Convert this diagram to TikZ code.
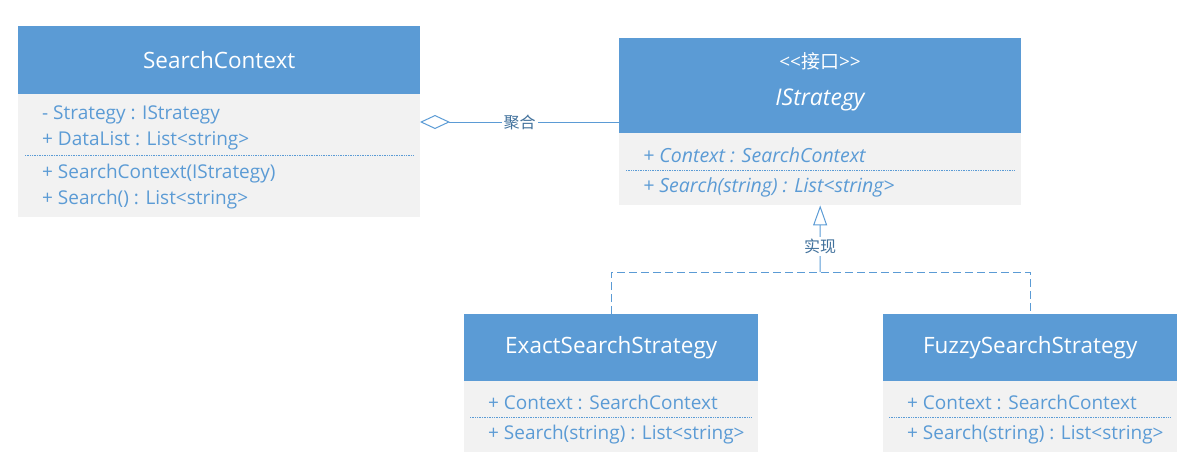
\documentclass[tikz,border=0pt]{standalone}
\usepackage{fontspec}
\setmainfont{Open Sans}[Ligatures=NoCommon]
\newfontfamily\cjk{Noto Sans CJK SC}
\usetikzlibrary{arrows.meta}
\definecolor{umlblue}{HTML}{5B9BD5}
\definecolor{umlgray}{HTML}{F2F2F2}
\definecolor{labelblue}{HTML}{41719C}

\tikzset{
	head/.style={fill=umlblue, text=white, inner sep=0pt, anchor=north west, font=\fontsize{22.5}{26}\selectfont},
	body/.style={fill=umlgray, inner sep=0pt, anchor=north west},
	member/.style={anchor=west, inner sep=0pt, yshift=-2pt, text=umlblue, font=\fontsize{19}{22}\selectfont},
	sep/.style={umlblue, densely dotted, line width=0.7pt},
	conn/.style={umlblue, line width=1pt},
	lbl/.style={fill=white, inner sep=2pt, text=labelblue, font=\cjk\fontsize{16}{19}\selectfont}
}

\begin{document}
\begin{tikzpicture}[x=1pt, y=-1pt]
	\useasboundingbox (0,0) rectangle (1197,469);
	% SearchContext
	\node[head, minimum width=402pt, minimum height=68pt] (sc) at (18,26) {SearchContext};
	\node[body, minimum width=402pt, minimum height=123pt] (scbody) at (18,94) {};
	\node[member] (sc1) at (42,113) {- Strategy : IStrategy};
	\node[member] (sc2) at (42,139) {+ DataList : List\kern0pt<string\kern0pt>};
	\draw[sep] (25,155) -- (414,155);
	\node[member] (sc3) at (42,172) {+ SearchContext(IStrategy)};
	\node[member] (sc4) at (42,198) {+ Search() : List\kern0pt<string\kern0pt>};

	% IStrategy
	\node[head, minimum width=402pt, minimum height=95pt] (is) at (619,38) {};
	\node[text=white, font=\fontsize{19}{22}\selectfont] (isstereo) at (820,61) {<\kern0pt<{\cjk 接口}>\kern0pt>};
	\node[text=white, font=\fontsize{23}{27}\selectfont\itshape] (isname) at (820,100) {IStrategy};
	\node[body, minimum width=402pt, minimum height=72pt] (isbody) at (619,133) {};
	\node[member, font=\fontsize{19.5}{22}\selectfont\itshape] (is1) at (643,153) {+ Context : SearchContext};
	\draw[sep] (626,170) -- (1015,170);
	\node[member, font=\fontsize{19.5}{22}\selectfont\itshape] (is2) at (643,185) {+ Search(string) : List\kern0pt<string\kern0pt>};

	% ExactSearchStrategy
	\node[head, minimum width=294pt, minimum height=67pt] (ex) at (464,314) {ExactSearchStrategy};
	\node[body, minimum width=294pt, minimum height=71pt] (exbody) at (464,381) {};
	\node[member] (ex1) at (488,400) {+ Context : SearchContext};
	\draw[sep] (470,417) -- (752,417);
	\node[member] (ex2) at (488,433) {+ Search(string) : List\kern0pt<string\kern0pt>};

	% FuzzySearchStrategy
	\node[head, minimum width=294pt, minimum height=67pt] (fz) at (883,314) {FuzzySearchStrategy};
	\node[body, minimum width=294pt, minimum height=71pt] (fzbody) at (883,381) {};
	\node[member] (fz1) at (907,400) {+ Context : SearchContext};
	\draw[sep] (889,417) -- (1171,417);
	\node[member] (fz2) at (907,433) {+ Search(string) : List\kern0pt<string\kern0pt>};

	% connectors
	\coordinate (aggr) at (420,122);
	\draw[conn, -{Diamond[open, length=30pt, width=14pt]}] (is.west |- aggr) -- (aggr)
		node[lbl, pos=0.5] (aggrlbl) {聚合};
	\coordinate (junc) at (820,272);
	\draw[conn, dash pattern=on 8pt off 4pt] (ex.north) |- (junc) -| (fz.north);
	\draw[conn, -{Triangle[open, length=20pt, width=14pt]}] (junc) -- (isbody.south)
		node[lbl, pos=0.38] (reallbl) {实现};
\end{tikzpicture}
\end{document}
